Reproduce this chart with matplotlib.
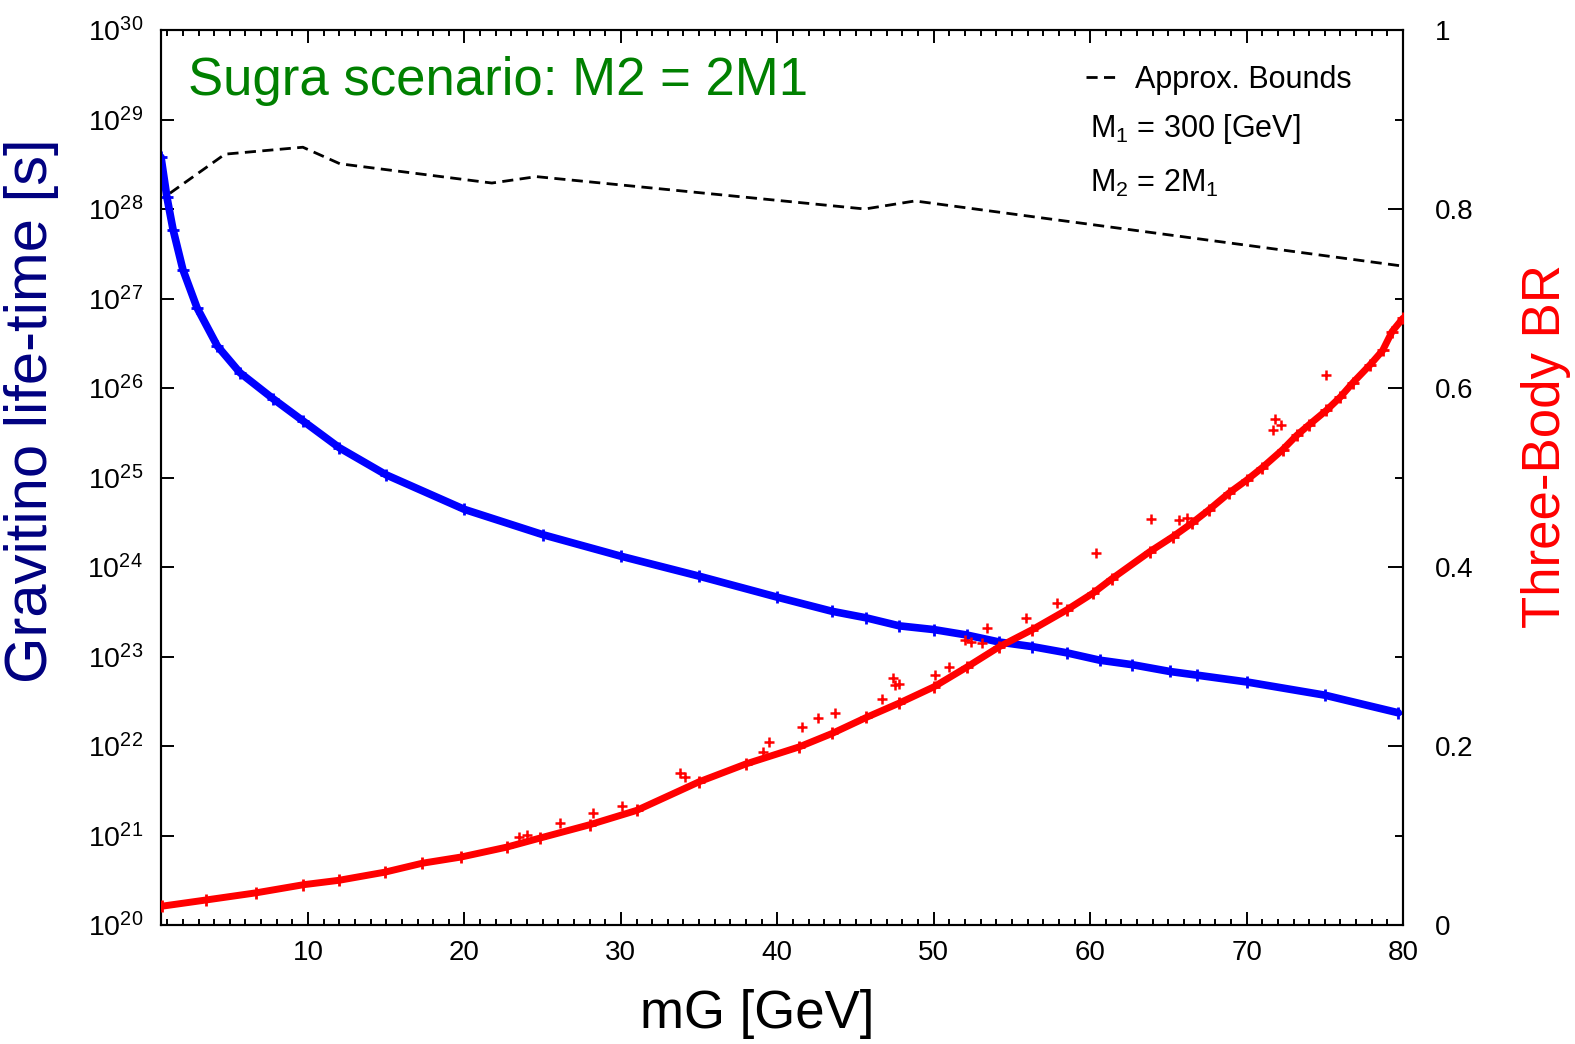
import matplotlib
matplotlib.use("Agg")
import matplotlib.pyplot as plt
from matplotlib.ticker import MultipleLocator, LogLocator, NullLocator, FormatStrFormatter

plt.rcParams['font.family'] = ['Liberation Sans', 'DejaVu Sans']
plt.rcParams['mathtext.default'] = 'regular'

# --- data ---
# gravitino lifetime band (blue, left axis)
mg_life = [0.6, 0.98, 1.37, 2.0, 2.9, 4.2, 5.65, 7.76, 9.67, 12, 15, 20, 25, 30, 35, 40,
           43.5, 45.7, 47.8, 50, 52.1, 54.2, 56.3, 58.5, 60.6, 62.7, 65.1, 66.8, 70, 75, 79.7]
lifetime = [3.8e28, 1.35e28, 5.9e27, 2.1e27, 7.9e26, 2.95e26, 1.48e26, 7.6e25, 4.3e25, 2.15e25,
            1.07e25, 4.4e24, 2.3e24, 1.32e24, 7.9e23, 4.6e23,
            3.2e23, 2.7e23, 2.2e23, 2.0e23, 1.74e23, 1.45e23, 1.29e23, 1.1e23, 9.1e22, 8.1e22,
            6.8e22, 6.2e22, 5.2e22, 3.7e22, 2.35e22]

# three-body branching ratio band (red, right axis)
mg_br = [0.66, 3.5, 6.7, 9.7, 12, 14.9, 17.3, 19.8, 22.7, 24.8, 28.0, 31.0, 35, 38, 41.4,
         43.5, 45.7, 47.8, 50, 52.1, 54.2, 56.3, 58.5, 60.2, 61.4, 63.8, 65.3, 66.5, 67.6,
         68.9, 70.0, 71.0, 72.3, 73.2, 74.0, 75.1, 76.0, 76.8, 77.9, 78.7, 79.3, 80]
br = [0.021, 0.028, 0.036, 0.045, 0.050, 0.059, 0.069, 0.076, 0.087, 0.097, 0.112, 0.128,
      0.160, 0.180, 0.199, 0.214, 0.232, 0.248, 0.266, 0.288, 0.311, 0.330, 0.352, 0.371,
      0.387, 0.417, 0.434, 0.449, 0.464, 0.483, 0.497, 0.511, 0.531, 0.547, 0.559, 0.575,
      0.590, 0.606, 0.626, 0.642, 0.663, 0.678]

# scattered red points off the band
mg_br_out = [23.5, 24.0, 26.1, 28.2, 30.1, 34.1, 33.8, 39.5, 39.1, 41.6, 42.6, 43.7, 46.7,
             47.4, 47.5, 47.8, 50.1, 51.0, 52.0, 52.4, 53.1, 53.4, 55.9, 57.9, 60.4, 63.9,
             65.7, 66.2, 71.7, 71.8, 72.2, 75.1]
br_out = [0.098, 0.101, 0.114, 0.125, 0.133, 0.165, 0.170, 0.204, 0.193, 0.221, 0.231, 0.237,
          0.253, 0.276, 0.268, 0.269, 0.279, 0.288, 0.318, 0.316, 0.315, 0.332, 0.343, 0.360,
          0.416, 0.454, 0.453, 0.455, 0.553, 0.565, 0.559, 0.615]

# approximate bounds (dashed)
mg_bound = [1.17, 4.69, 9.67, 12.04, 21.75, 24.6, 45.6, 48.8, 80]
bound = [1.5e28, 4.1e28, 4.9e28, 3.2e28, 1.95e28, 2.3e28, 1.0e28, 1.23e28, 2.3e27]

fig = plt.figure(figsize=(15.75, 10.44), dpi=100)
ax = fig.add_axes([161/1575, 1 - 925/1044, 1242/1575, 895/1044])
ax2 = ax.twinx()

# blue band
ax.plot(mg_life, lifetime, color='blue', lw=5.5, solid_capstyle='round',
        solid_joinstyle='round', marker='+', ms=8, mew=2, zorder=3)
# dashed bounds
bound_line, = ax.plot(mg_bound, bound, color='black', lw=2, ls=(0, (4, 2.3)), zorder=2)

# red band
ax2.plot(mg_br, br, color='red', lw=5, solid_capstyle='round',
         solid_joinstyle='round', marker='+', ms=8, mew=2, zorder=3)
ax2.plot(mg_br_out, br_out, ls='none', color='red', marker='+', ms=7, mew=1.8)

ax.set_yscale('log')
ax.set_xlim(0.6, 80)
ax.set_ylim(1e20, 1e30)
ax2.set_ylim(0, 1)

ax.xaxis.set_major_locator(MultipleLocator(10))
ax.xaxis.set_minor_locator(MultipleLocator(1))
ax.yaxis.set_major_locator(LogLocator(base=10, numticks=20))
ax.yaxis.set_minor_locator(NullLocator())
ax2.yaxis.set_major_locator(MultipleLocator(0.2))
ax2.yaxis.set_minor_locator(MultipleLocator(0.1))
ax2.yaxis.set_major_formatter(FormatStrFormatter('%g'))

ax.tick_params(axis='x', which='both', direction='in', top=True, labelsize=20, pad=11)
ax.tick_params(axis='x', which='major', length=9.5, width=1.4)
ax.tick_params(axis='x', which='minor', length=4.5, width=1.4)
ax.tick_params(axis='y', which='major', direction='in', right=False, length=9.5, width=1.4,
               labelsize=20.5, pad=13)
ax2.tick_params(axis='y', which='major', direction='in', length=11, width=1.4, labelsize=20, pad=23)
ax2.tick_params(axis='y', which='minor', direction='in', length=5.5, width=1.4)
for a in (ax, ax2):
    for s in a.spines.values():
        s.set_linewidth(1.5)

ax.set_xlabel('mG [GeV]', fontsize=38)
ax.xaxis.set_label_coords(0.48, -0.071)
ax.set_ylabel('Gravitino life-time [s]', fontsize=43, color='#000080')
ax.yaxis.set_label_coords(-0.082, 0.575)
ax2.set_ylabel('Three-Body BR', fontsize=38, color='red')
ax2.yaxis.set_label_coords(1.095, 0.535)

ax.text(0.0217, 0.927, 'Sugra scenario: M2 = 2M1', transform=ax.transAxes,
        fontsize=38, color='#008000', va='baseline')

ax.legend([bound_line], ['Approx. Bounds'], loc='upper left',
          bbox_to_anchor=((1086 - 161) / 1242, (925 - 65) / 895), frameon=False,
          fontsize=22, handlelength=1.1, handletextpad=0.5, borderpad=0, borderaxespad=0)
ax.text(0.748, 0.880, 'M$_1$ = 300 [GeV]', transform=ax.transAxes, fontsize=22, va='baseline')
ax.text(0.748, 0.819, 'M$_2$ = 2M$_1$', transform=ax.transAxes, fontsize=22, va='baseline')

fig.savefig('out.png', dpi=100)
